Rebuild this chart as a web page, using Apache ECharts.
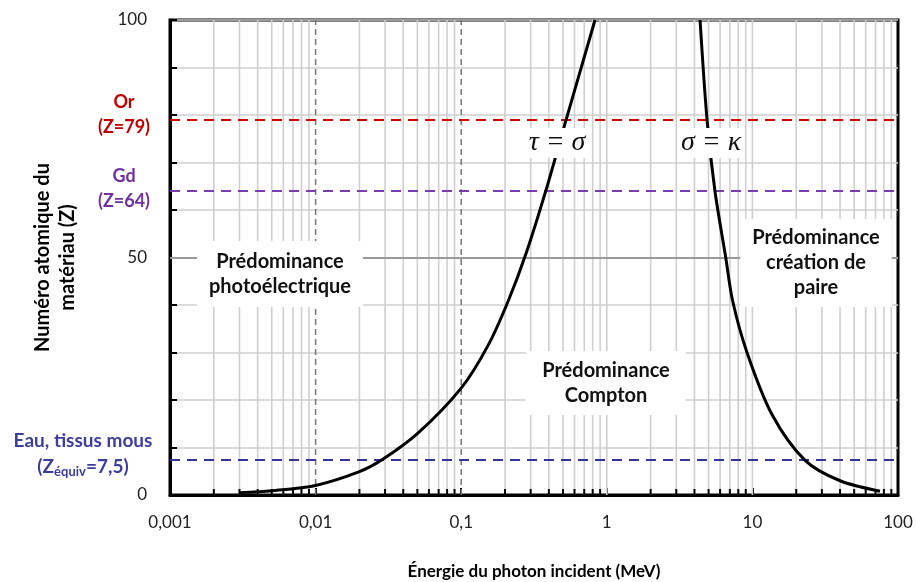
<!DOCTYPE html>
<html><head><meta charset="utf-8">
<script src="https://cdn.jsdelivr.net/npm/echarts@6/dist/echarts.min.js"></script>
<style>html,body{margin:0;padding:0;background:#fff}#c{width:917px;height:582px}</style>
</head><body><div id="c"></div>
<script>
// ---- Data ----
const DECADES = [0.001, 0.01, 0.1, 1, 10, 100];
const X_TICK_LABELS = ['0,001', '0,01', '0,1', '1', '10', '100'];
const MINOR_MULT = [2, 3, 4, 5, 6, 7, 8, 9];
const Y_TICK_LABELS = [0, 50, 100];

// Frontière photoélectrique / Compton (tau = sigma)
const TAU_SIGMA_E = [0.003, 0.005, 0.01, 0.02, 0.0286, 0.05, 0.1, 0.153, 0.21, 0.28, 0.385, 0.52, 0.83];
const TAU_SIGMA_Z = [0.5, 0.9, 2.0, 4.9, 7.4, 12.9, 22.5, 31.5, 40.8, 51, 64.5, 78.5, 100];

// Frontière Compton / création de paire (sigma = kappa)
const SIGMA_KAPPA_E = [4.37, 4.88, 5.53, 6.56, 7.30, 9.18, 13.6, 23.0, 40.0, 75.2];
const SIGMA_KAPPA_Z = [100, 79, 64, 50, 41, 30, 17, 7.3, 3.0, 0.8];

const Z_OR = 79, Z_GD = 64, Z_EAU = 7.5;

// ---- Build ----
const minorVals = [];
DECADES.slice(0, -1).forEach(d => MINOR_MULT.forEach(m => minorVals.push(d * m)));
const gridVals = minorVals.concat([1, 10]);
const dashedVals = [0.01, 0.1];

const FONT = 'Lato';
const chart = echarts.init(document.getElementById('c'), null, {renderer: 'canvas'});

function vline(stroke, lw, dash) {
  return function (params, api) {
    const p0 = api.coord([api.value(0), 0]);
    const p1 = api.coord([api.value(0), 100]);
    return {type: 'line', shape: {x1: p0[0], y1: p0[1], x2: p1[0], y2: p1[1]},
      style: {stroke: stroke, lineWidth: lw, lineDash: dash || null}, silent: true};
  };
}

const annot = (text, x, y, pad) => ({type: 'text', x: x, y: y, z: 100, style: {
  text: text, fontFamily: FONT, fontWeight: 'bold', fontSize: 20, lineHeight: 25,
  fill: '#111', align: 'center', verticalAlign: 'middle', backgroundColor: '#fff', padding: pad}});

const option = {
  animation: false,
  backgroundColor: '#fff',
  grid: {left: 170, right: 19, top: 20, bottom: 87, outerBoundsMode: 'none', containLabel: false,
    show: true, borderColor: '#000', borderWidth: 3, backgroundColor: 'transparent'},
  xAxis: {
    type: 'log', logBase: 10, min: 0.001, max: 100,
    name: 'Énergie du photon incident (MeV)', nameLocation: 'middle', nameGap: 68,
    nameTextStyle: {fontFamily: FONT, fontWeight: 'bold', fontSize: 17, color: '#000'},
    axisLine: {lineStyle: {color: '#000', width: 3}},
    axisTick: {inside: true, length: 7, lineStyle: {color: '#000', width: 2}},
    splitLine: {show: false},
    axisLabel: {fontFamily: FONT, fontSize: 17, color: '#222', margin: 19,
      formatter: v => X_TICK_LABELS[Math.round(Math.log10(v)) + 3]}
  },
  yAxis: {
    type: 'value', min: 0, max: 100, interval: 10,
    name: 'Numéro atomique du\nmatériau (Z)', nameLocation: 'middle', nameGap: 90, nameRotate: 90,
    nameTextStyle: {fontFamily: FONT, fontWeight: 'bold', fontSize: 20, color: '#000', lineHeight: 25},
    axisLine: {lineStyle: {color: '#000', width: 3}},
    axisTick: {inside: true, length: 7, lineStyle: {color: '#000', width: 2}},
    splitLine: {show: true, lineStyle: {color: '#cfcfcf', width: 1.6}},
    axisLabel: {fontFamily: FONT, fontSize: 17, color: '#222', margin: 23,
      formatter: v => Y_TICK_LABELS.includes(v) ? String(v) : ''}
  },
  series: [
    {type: 'custom', data: gridVals.map(v => [v, 0]), renderItem: vline('#cfcfcf', 1.6), z: 1, silent: true},
    {type: 'custom', data: dashedVals.map(v => [v, 0]), renderItem: vline('#777', 1.5, [6, 4]), z: 2, silent: true},
    {type: 'custom', data: minorVals.map(v => [v, 0]), z: 3, silent: true,
      renderItem: (params, api) => {
        const p = api.coord([api.value(0), 0]);
        return {type: 'line', shape: {x1: p[0], y1: p[1], x2: p[0], y2: p[1] - 6}, style: {stroke: '#000', lineWidth: 2}};
      }},
    {type: 'line', data: [], silent: true, z: 4,
      markLine: {silent: true, symbol: 'none', label: {show: false}, animation: false,
        data: [
          {yAxis: 50, lineStyle: {color: '#9a9a9a', width: 2, type: 'solid'}},
          {yAxis: Z_OR, lineStyle: {color: '#d40000', width: 2, type: [10, 7]}},
          {yAxis: Z_GD, lineStyle: {color: '#7a3cb0', width: 2, type: [10, 7]}},
          {yAxis: Z_EAU, lineStyle: {color: '#34349c', width: 2, type: [10, 7]}}
        ]}},
    {type: 'line', name: 'tau=sigma', data: TAU_SIGMA_E.map((e, i) => [e, TAU_SIGMA_Z[i]]),
      smooth: 0.3, showSymbol: false, lineStyle: {color: '#000', width: 3}, z: 5},
    {type: 'line', name: 'sigma=kappa', data: SIGMA_KAPPA_E.map((e, i) => [e, SIGMA_KAPPA_Z[i]]),
      smooth: 0.3, showSymbol: false, lineStyle: {color: '#000', width: 3}, z: 5}
  ],
  graphic: [
    annot('Prédominance\nphotoélectrique', 280, 274, [7, 12, 9, 12]),
    annot('Prédominance\nCompton', 606, 383, [6, 16, 8, 16]),
    annot('Prédominance\ncréation de\npaire', 816, 263, [5, 12, 8, 12]),
    {type: 'text', x: 557, y: 143, z: 100, style: {text: 'τ = σ', fontFamily: 'Liberation Serif', fontStyle: 'italic', fontSize: 28,
      fill: '#111', align: 'center', verticalAlign: 'middle', backgroundColor: '#fff', padding: [1, 3, 1, 3]}},
    {type: 'text', x: 711, y: 143, z: 100, style: {text: 'σ = κ', fontFamily: 'Liberation Serif', fontStyle: 'italic', fontSize: 28,
      fill: '#111', align: 'center', verticalAlign: 'middle', backgroundColor: '#fff', padding: [1, 3, 1, 3]}},
    // étiquettes de gauche
    {type: 'text', x: 124, y: 115, style: {text: 'Or\n(Z=79)', fontFamily: FONT, fontWeight: 'bold', fontSize: 18, lineHeight: 25,
      fill: '#c00000', align: 'center', verticalAlign: 'middle'}},
    {type: 'text', x: 124, y: 189, style: {text: 'Gd\n(Z=64)', fontFamily: FONT, fontWeight: 'bold', fontSize: 18, lineHeight: 25,
      fill: '#7030a0', align: 'center', verticalAlign: 'middle'}},
    {type: 'text', x: 83, y: 454, style: {
      text: 'Eau, tissus mous\n{n|(Z}{s|équiv}{n|=7,5)}', fontFamily: FONT, fontWeight: 'bold', fontSize: 19, lineHeight: 26,
      fill: '#3d3d9e', align: 'center', verticalAlign: 'middle',
      rich: {n: {fontFamily: FONT, fontWeight: 'bold', fontSize: 19, fill: '#3d3d9e', lineHeight: 26},
             s: {fontFamily: FONT, fontWeight: 'bold', fontSize: 13, fill: '#3d3d9e', padding: [9, 0, 0, 0], lineHeight: 26}}}}
  ]
};
chart.setOption(option);
</script>
</body></html>
